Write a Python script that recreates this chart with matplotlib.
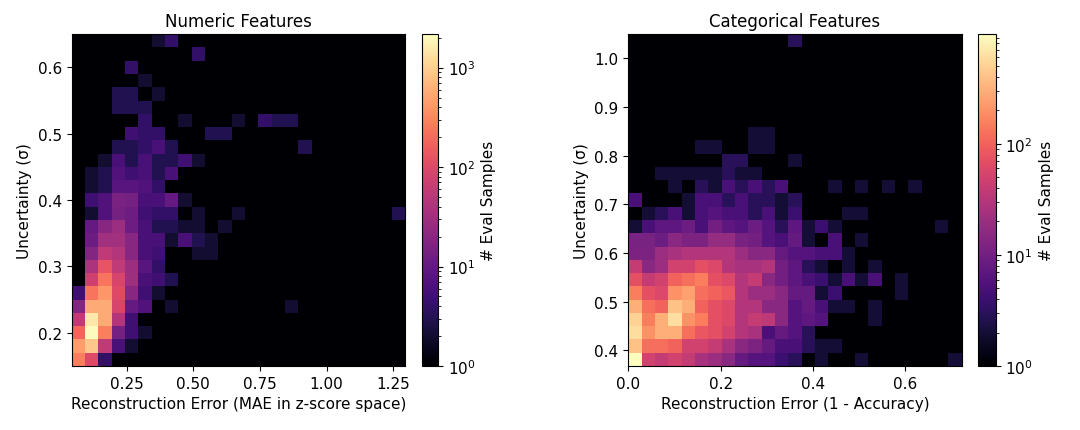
import numpy as np
import matplotlib
matplotlib.use("Agg")
import matplotlib.pyplot as plt
from matplotlib.colors import LogNorm

# bin ranges of the two 25x25 histograms
num_x_range = (0.044, 1.294)
num_y_range = (0.150, 0.650)
cat_x_range = (0.0, 0.722)
cat_y_range = (0.368, 1.050)
n_bins = 25


def sparse_rows(rows):
    # rows: list (top to bottom) of {col: count}
    grid = np.zeros((n_bins, n_bins))
    for r, cells in enumerate(rows):
        for c, v in cells.items():
            grid[r, c] = v
    return np.flipud(grid)  # bottom row first for pcolormesh


# counts, top row first
numeric_rows = [
    {6: 2, 7: 4},
    {9: 4},
    {4: 4},
    {5: 2},
    {3: 3, 4: 3, 6: 2},
    {3: 3, 4: 3, 5: 3},
    {5: 4, 8: 2, 12: 2, 14: 4, 15: 3, 16: 3},
    {4: 5, 5: 4, 6: 4, 10: 3, 11: 3},
    {3: 3, 4: 3, 5: 4, 6: 6, 7: 3, 17: 3},
    {2: 2, 3: 6, 4: 3, 5: 6, 6: 3, 7: 3, 8: 5, 9: 2},
    {1: 2, 2: 3, 3: 7, 4: 5, 5: 6, 6: 3, 7: 6},
    {1: 2, 2: 3, 3: 8, 4: 8, 5: 7, 6: 4},
    {1: 5, 2: 7, 3: 15, 4: 14, 5: 6, 6: 6, 7: 10, 8: 2},
    {1: 2, 2: 7, 3: 14, 4: 12, 5: 5, 6: 4, 7: 4, 9: 2, 12: 2, 24: 3},
    {1: 10, 2: 20, 3: 28, 4: 12, 5: 6, 6: 3, 7: 3, 8: 2, 9: 2, 11: 2},
    {1: 12, 2: 32, 3: 32, 4: 20, 5: 6, 6: 6, 7: 2, 8: 6, 9: 3, 10: 2},
    {1: 18, 2: 55, 3: 45, 4: 20, 5: 6, 6: 5, 9: 2, 10: 2},
    {1: 40, 2: 130, 3: 55, 4: 28, 5: 8, 6: 4},
    {1: 75, 2: 230, 3: 90, 4: 30, 5: 6, 6: 5, 7: 3},
    {0: 5, 1: 230, 2: 400, 3: 100, 4: 20, 5: 5, 6: 2},
    {0: 18, 1: 550, 2: 550, 3: 85, 4: 10, 5: 7, 7: 2, 16: 2},
    {0: 55, 1: 1500, 2: 550, 3: 45, 4: 5},
    {0: 180, 1: 2100, 2: 280, 3: 14, 4: 5, 5: 2},
    {0: 450, 1: 900, 2: 55, 3: 6, 4: 2},
    {0: 280, 1: 100, 2: 4},
]

# counts, top row first
categorical_rows = [
    {12: 3},
    {}, {}, {}, {}, {}, {},
    {9: 2, 10: 2},
    {5: 2, 6: 2, 9: 2, 10: 2},
    {7: 3, 8: 3, 12: 2},
    {2: 2, 3: 2, 4: 2, 5: 2, 6: 2, 7: 3, 8: 2, 9: 2},
    {3: 2, 5: 3, 6: 2, 7: 5, 8: 3, 9: 5, 10: 3, 11: 5, 15: 2, 17: 2, 19: 2, 21: 2},
    {0: 5, 4: 2, 5: 5, 6: 5, 7: 3, 8: 5, 9: 3, 10: 3, 11: 2, 12: 3},
    {1: 2, 2: 3, 3: 5, 4: 2, 5: 5, 6: 6, 7: 5, 8: 5, 9: 3, 10: 5, 11: 2, 12: 4, 16: 2, 17: 2},
    {0: 2, 1: 5, 2: 7, 3: 7, 4: 9, 5: 5, 6: 10, 7: 7, 8: 6, 9: 9, 10: 6, 11: 3, 12: 7,
     13: 2, 14: 4, 15: 2, 23: 2},
    {0: 11, 1: 11, 2: 9, 3: 15, 4: 12, 5: 12, 6: 18, 7: 18, 8: 11, 9: 10, 10: 6, 11: 5,
     12: 8, 13: 2, 15: 5, 17: 2},
    {0: 12, 1: 12, 2: 20, 3: 25, 4: 30, 5: 30, 6: 30, 7: 30, 8: 20, 9: 14, 10: 15, 11: 8,
     12: 6, 13: 6, 14: 5, 15: 5, 16: 2},
    {0: 40, 1: 15, 2: 20, 3: 50, 4: 50, 5: 70, 6: 60, 7: 30, 8: 25, 9: 25, 10: 30, 11: 10,
     12: 7, 13: 3, 14: 2, 16: 2, 18: 2},
    {0: 70, 1: 40, 2: 50, 3: 100, 4: 120, 5: 150, 6: 70, 7: 60, 8: 30, 9: 40, 10: 15, 11: 10,
     12: 7, 13: 5, 14: 4, 15: 2, 16: 5, 17: 2, 18: 5, 20: 2},
    {0: 150, 1: 70, 2: 60, 3: 200, 4: 250, 5: 120, 6: 100, 7: 80, 8: 30, 9: 20, 10: 20, 11: 15,
     12: 8, 13: 8, 14: 2, 15: 4, 20: 2},
    {0: 300, 1: 120, 2: 100, 3: 400, 4: 300, 5: 100, 6: 70, 7: 60, 8: 30, 9: 30, 10: 15, 11: 15,
     12: 6, 13: 8, 14: 5, 15: 2, 16: 2, 18: 2},
    {0: 500, 1: 150, 2: 300, 3: 600, 4: 200, 5: 150, 6: 70, 7: 60, 8: 30, 9: 40, 10: 35, 11: 15,
     12: 6, 13: 7, 14: 6, 18: 2},
    {0: 600, 1: 200, 2: 300, 3: 300, 4: 120, 5: 80, 6: 70, 7: 50, 8: 30, 9: 25, 10: 5, 11: 8,
     12: 6, 13: 3},
    {0: 400, 1: 120, 2: 120, 3: 100, 4: 50, 5: 50, 6: 40, 7: 25, 8: 15, 9: 12, 10: 8, 11: 5,
     12: 5, 13: 3, 14: 2, 15: 2},
    {0: 950, 1: 50, 2: 40, 3: 50, 4: 40, 5: 25, 6: 20, 7: 15, 8: 8, 9: 6, 10: 6, 11: 4,
     12: 3, 14: 2, 17: 2, 24: 2},
]

numeric_vmax = 2170
categorical_vmax = 970

cmap = plt.get_cmap("magma").copy()
cmap.set_bad(cmap(0.0))

fig = plt.figure(figsize=(10.8, 4.31), dpi=100)
ax1 = fig.add_axes([0.0664, 0.1485, 0.3086, 0.770])
cax1 = fig.add_axes([0.3904, 0.1485, 0.0154, 0.770])
ax2 = fig.add_axes([0.5818, 0.1485, 0.3087, 0.770])
cax2 = fig.add_axes([0.9058, 0.1485, 0.0160, 0.770])


def draw(ax, cax, rows, xr, yr, vmax, title, xlabel):
    counts = np.ma.masked_equal(sparse_rows(rows), 0)
    xe = np.linspace(xr[0], xr[1], n_bins + 1)
    ye = np.linspace(yr[0], yr[1], n_bins + 1)
    mesh = ax.pcolormesh(xe, ye, counts, cmap=cmap, norm=LogNorm(vmin=1, vmax=vmax))
    ax.set_facecolor(cmap(0.0))
    ax.set_xlim(xr)
    ax.set_ylim(yr)
    ax.set_title(title, fontsize=12)
    ax.set_xlabel(xlabel, fontsize=11)
    ax.set_ylabel("Uncertainty (σ)", fontsize=11)
    ax.tick_params(labelsize=11)
    cb = fig.colorbar(mesh, cax=cax)
    cb.set_label("# Eval Samples", fontsize=11)
    cb.ax.tick_params(labelsize=11)
    return mesh


draw(ax1, cax1, numeric_rows, num_x_range, num_y_range, numeric_vmax,
     "Numeric Features", "Reconstruction Error (MAE in z-score space)")
ax1.set_xticks([0.25, 0.5, 0.75, 1.0, 1.25])
ax1.set_yticks([0.2, 0.3, 0.4, 0.5, 0.6])

draw(ax2, cax2, categorical_rows, cat_x_range, cat_y_range, categorical_vmax,
     "Categorical Features", "Reconstruction Error (1 - Accuracy)")
ax2.set_xticks([0.0, 0.2, 0.4, 0.6])
ax2.set_yticks([0.4, 0.5, 0.6, 0.7, 0.8, 0.9, 1.0])

fig.savefig("out.png", dpi=100)
